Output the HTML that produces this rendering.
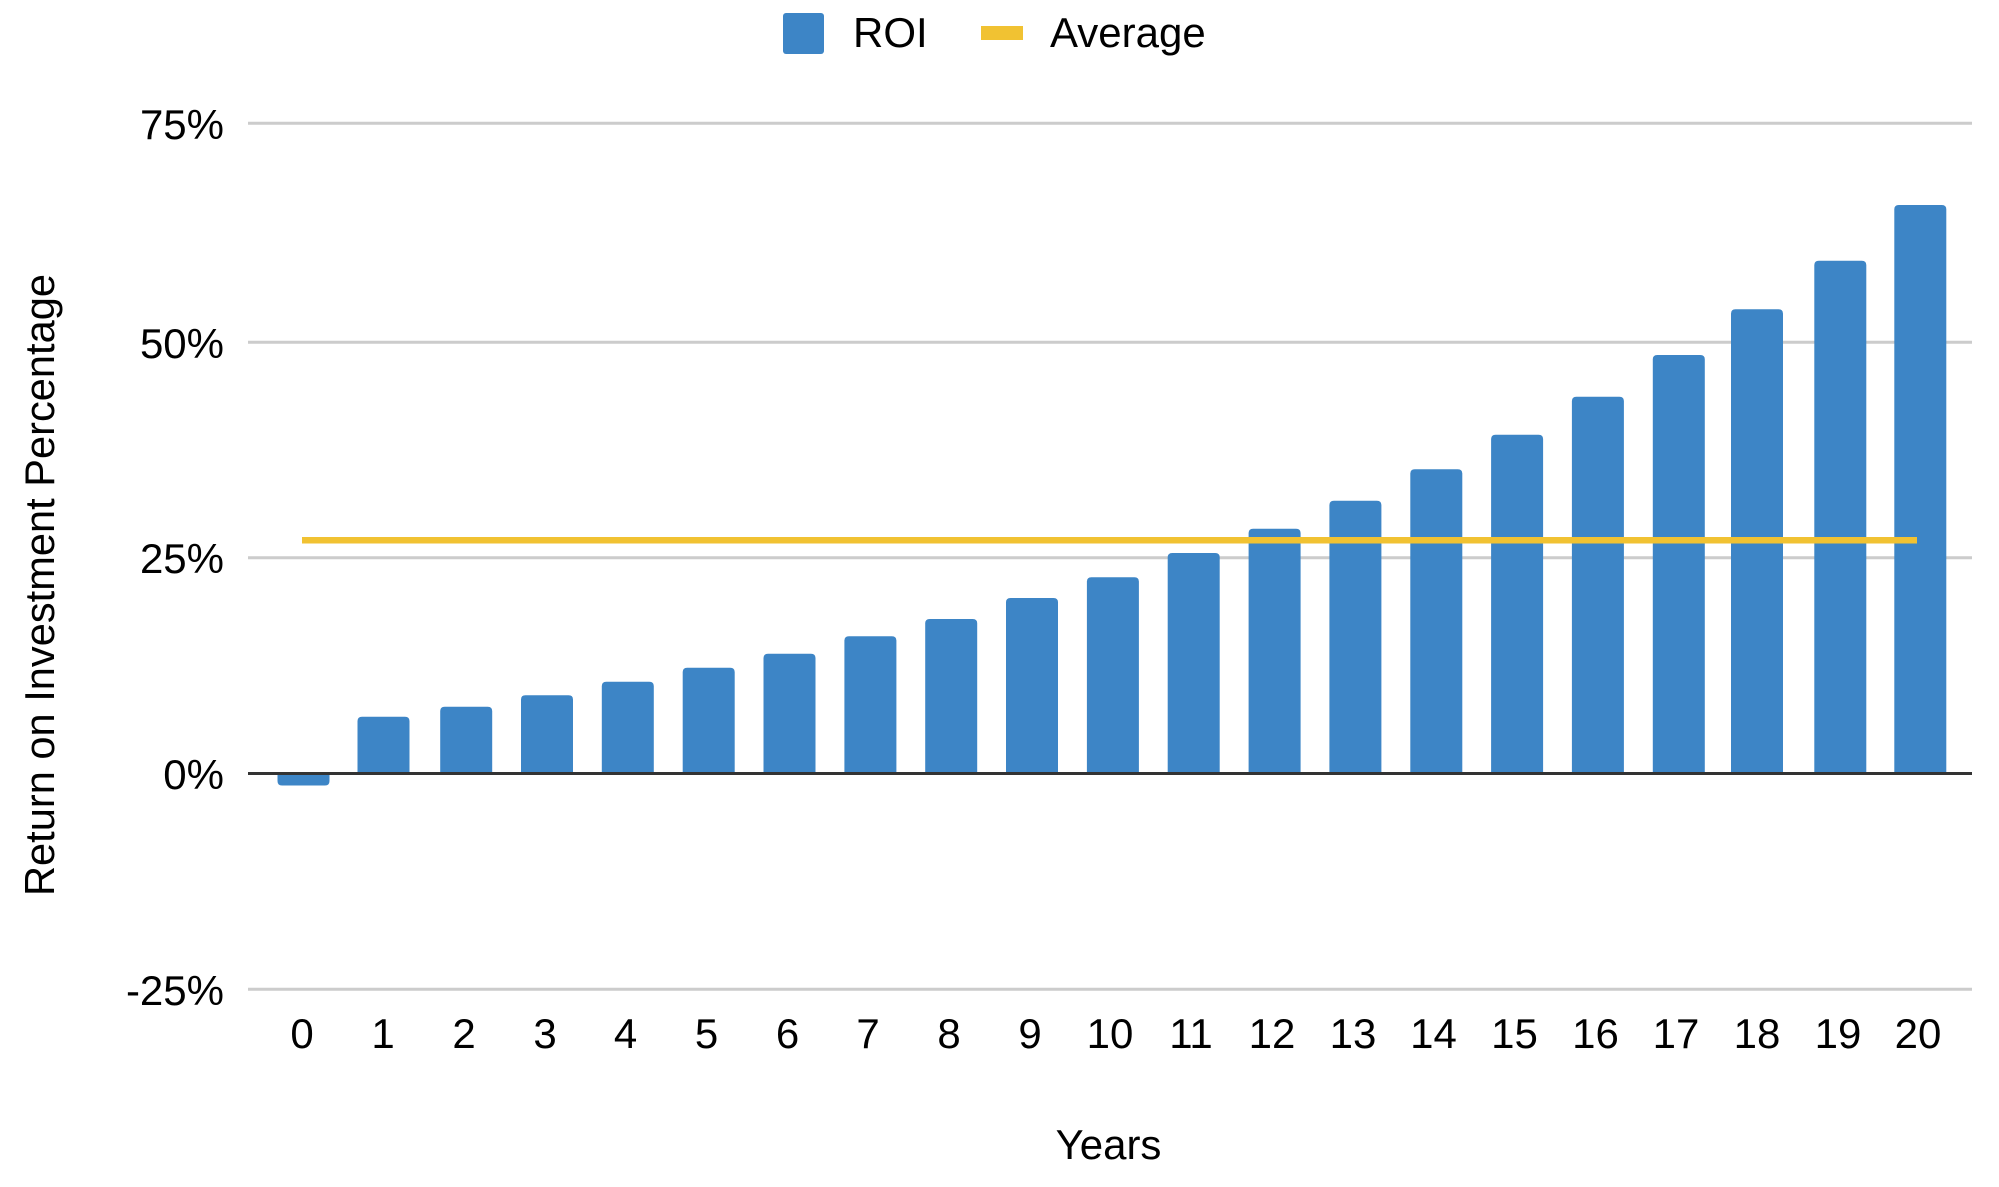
<!DOCTYPE html>
<html>
<head>
<meta charset="utf-8">
<style>
  html, body { margin: 0; padding: 0; background: #ffffff; }
  svg { display: block; }
  text { font-family: "Liberation Sans", Arial, sans-serif; fill: #000; }
</style>
</head>
<body>
<svg xmlns="http://www.w3.org/2000/svg" width="1999" height="1187" viewBox="0 0 1999 1187">
  <rect x="0" y="0" width="1999" height="1187" fill="#ffffff"/>

  <!-- Legend -->
  <rect x="783" y="13" width="41" height="41" rx="3" ry="3" fill="#3d85c6"/>
  <text x="853" y="47" font-size="42">ROI</text>
  <rect x="981" y="26" width="42" height="14" fill="#f1c232"/>
  <text x="1050" y="47" font-size="42">Average</text>

  <!-- Gridlines -->
  <g stroke="#cccccc" stroke-width="3">
    <line x1="248" y1="123.3" x2="1972" y2="123.3"/>
    <line x1="248" y1="342.3" x2="1972" y2="342.3"/>
    <line x1="248" y1="557.7" x2="1972" y2="557.7"/>
    <line x1="248" y1="989.3" x2="1972" y2="989.3"/>
  </g>

  <!-- Y tick labels -->
  <g font-size="42" text-anchor="end">
    <text x="224" y="139">75%</text>
    <text x="224" y="358">50%</text>
    <text x="224" y="573">25%</text>
    <text x="224" y="789">0%</text>
    <text x="224" y="1005">-25%</text>
  </g>

  <!-- Bars -->
  <g fill="#3d85c6">
    <path d="M277.5,773.5 V781 Q277.5,785.5 282,785.5 H325 Q329.5,785.5 329.5,781 V773.5 Z"/>
    <path d="M357.5,773.5 V721 Q357.5,716.7 362,716.7 H405 Q409.5,716.7 409.5,721 V773.5 Z"/>
    <path d="M440.2,773.5 V711 Q440.2,706.7 444.7,706.7 H487.7 Q492.2,706.7 492.2,711 V773.5 Z"/>
    <path d="M521,773.5 V699.5 Q521,695.3 525.5,695.3 H568.5 Q573,695.3 573,699.5 V773.5 Z"/>
    <path d="M601.8,773.5 V686 Q601.8,681.7 606.3,681.7 H649.3 Q653.8,681.7 653.8,686 V773.5 Z"/>
    <path d="M682.7,773.5 V672 Q682.7,667.7 687.2,667.7 H730.2 Q734.7,667.7 734.7,672 V773.5 Z"/>
    <path d="M763.5,773.5 V658 Q763.5,653.7 768,653.7 H811 Q815.5,653.7 815.5,658 V773.5 Z"/>
    <path d="M844.4,773.5 V640.6 Q844.4,636.3 848.9,636.3 H891.9 Q896.4,636.3 896.4,640.6 V773.5 Z"/>
    <path d="M925.2,773.5 V623.3 Q925.2,619 929.7,619 H972.7 Q977.2,619 977.2,623.3 V773.5 Z"/>
    <path d="M1006,773.5 V602.3 Q1006,598 1010.5,598 H1053.5 Q1058,598 1058,602.3 V773.5 Z"/>
    <path d="M1086.9,773.5 V581.6 Q1086.9,577.3 1091.4,577.3 H1134.4 Q1138.9,577.3 1138.9,581.6 V773.5 Z"/>
    <path d="M1167.7,773.5 V557.3 Q1167.7,553 1172.2,553 H1215.2 Q1219.7,553 1219.7,557.3 V773.5 Z"/>
    <path d="M1248.6,773.5 V533 Q1248.6,528.7 1253.1,528.7 H1296.1 Q1300.6,528.7 1300.6,533 V773.5 Z"/>
    <path d="M1329.4,773.5 V505 Q1329.4,500.7 1333.9,500.7 H1376.9 Q1381.4,500.7 1381.4,505 V773.5 Z"/>
    <path d="M1410.3,773.5 V473.6 Q1410.3,469.3 1414.8,469.3 H1457.8 Q1462.3,469.3 1462.3,473.6 V773.5 Z"/>
    <path d="M1491.1,773.5 V439 Q1491.1,434.7 1495.6,434.7 H1538.6 Q1543.1,434.7 1543.1,439 V773.5 Z"/>
    <path d="M1571.9,773.5 V401 Q1571.9,396.7 1576.4,396.7 H1619.4 Q1623.9,396.7 1623.9,401 V773.5 Z"/>
    <path d="M1652.8,773.5 V359.3 Q1652.8,355 1657.3,355 H1700.3 Q1704.8,355 1704.8,359.3 V773.5 Z"/>
    <path d="M1731,773.5 V313.6 Q1731,309.3 1735.5,309.3 H1778.5 Q1783,309.3 1783,313.6 V773.5 Z"/>
    <path d="M1814.3,773.5 V265 Q1814.3,260.7 1818.8,260.7 H1861.8 Q1866.3,260.7 1866.3,265 V773.5 Z"/>
    <path d="M1894.3,773.5 V209.3 Q1894.3,205 1898.8,205 H1941.8 Q1946.3,205 1946.3,209.3 V773.5 Z"/>
  </g>

  <!-- Zero line -->
  <line x1="248" y1="773.5" x2="1972" y2="773.5" stroke="#333333" stroke-width="3"/>

  <!-- Average line -->
  <line x1="302" y1="540.3" x2="1917" y2="540.3" stroke="#f1c232" stroke-width="6.5"/>

  <!-- X tick labels -->
  <g font-size="42" text-anchor="middle">
    <text x="302" y="1048">0</text>
    <text x="383" y="1048">1</text>
    <text x="464" y="1048">2</text>
    <text x="545" y="1048">3</text>
    <text x="625.5" y="1048">4</text>
    <text x="706.5" y="1048">5</text>
    <text x="787.5" y="1048">6</text>
    <text x="868" y="1048">7</text>
    <text x="949" y="1048">8</text>
    <text x="1030" y="1048">9</text>
    <text x="1110" y="1048">10</text>
    <text x="1191" y="1048">11</text>
    <text x="1272" y="1048">12</text>
    <text x="1353" y="1048">13</text>
    <text x="1433.5" y="1048">14</text>
    <text x="1514.5" y="1048">15</text>
    <text x="1595.5" y="1048">16</text>
    <text x="1676" y="1048">17</text>
    <text x="1757" y="1048">18</text>
    <text x="1838" y="1048">19</text>
    <text x="1918" y="1048">20</text>
  </g>

  <!-- Axis titles -->
  <text x="1108.5" y="1159" font-size="42" text-anchor="middle">Years</text>
  <text transform="translate(54,585) rotate(-90)" font-size="42" text-anchor="middle" textLength="622" lengthAdjust="spacingAndGlyphs">Return on Investment Percentage</text>
</svg>
</body>
</html>
